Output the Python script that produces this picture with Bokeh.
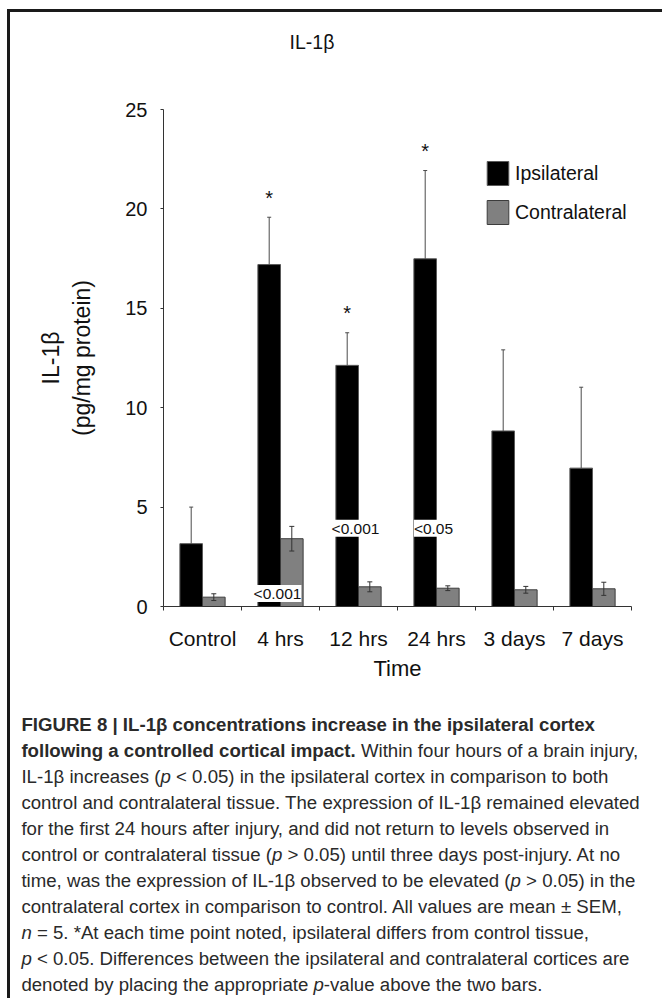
import numpy as np
from bokeh.plotting import figure
from bokeh.models import (Range1d, FixedTicker, ColumnDataSource, Whisker, TeeHead,
                          Legend, LegendItem, LabelSet, Div, LinearAxis)
from bokeh.layouts import column
from bokeh.core.properties import value
from bokeh.embed import file_html
from bokeh.resources import INLINE

# ---------------- data ----------------
categories = ["Control", "4 hrs", "12 hrs", "24 hrs", "3 days", "7 days"]
ipsilateral = [3.16, 17.2, 12.13, 17.49, 8.83, 6.96]
ipsilateral_sem = [1.84, 2.38, 1.64, 4.44, 4.08, 4.07]
contralateral = [0.47, 3.41, 0.99, 0.92, 0.84, 0.89]
contralateral_sem = [0.17, 0.62, 0.25, 0.12, 0.17, 0.33]
stars = ["", "*", "*", "*", "", ""]
p_values = ["", "<0.001", "<0.001", "<0.05", "", ""]
y_ticks = [0, 5, 10, 15, 20, 25]

# ---------------- layout constants ----------------
FONT = "Liberation Sans"
BAR_W = 0.29
P_LABEL_Y = {"4 hrs": 0.65, "12 hrs": 3.93, "24 hrs": 3.93}

n = len(categories)
centers = np.arange(n) + 0.5
ipsi = np.array(ipsilateral)
ipsi_e = np.array(ipsilateral_sem)
con = np.array(contralateral)
con_e = np.array(contralateral_sem)

src = ColumnDataSource(dict(
    x_ipsi=centers - BAR_W / 2,
    x_con=centers + BAR_W / 2,
    ipsi=ipsi, ipsi_top=ipsi + ipsi_e,
    con=con, con_lo=con - con_e, con_hi=con + con_e,
))

p = figure(width=652, height=644, x_range=Range1d(0, n), y_range=Range1d(0, 25),
           output_backend="svg", toolbar_location=None, margin=0,
           min_border_left=153, min_border_right=31, min_border_top=51, min_border_bottom=96)
p.grid.visible = False
p.outline_line_color = None
p.background_fill_color = "white"
p.border_fill_color = "white"

r_ipsi = p.vbar(x="x_ipsi", top="ipsi", bottom=0, width=BAR_W, source=src,
                fill_color="black", line_color="#5a5a5a", line_width=1)
r_con = p.vbar(x="x_con", top="con", bottom=0, width=BAR_W, source=src,
               fill_color="#808080", line_color="#3c3c3c", line_width=1)

p.add_layout(Whisker(source=src, base="x_ipsi", lower="ipsi", upper="ipsi_top",
                     lower_head=None,
                     upper_head=TeeHead(size=4, line_color="#4a4a4a", line_width=1),
                     line_color="#4a4a4a", line_width=1, level="overlay"))
p.add_layout(Whisker(source=src, base="x_con", lower="con_lo", upper="con_hi",
                     lower_head=TeeHead(size=5, line_color="#333333", line_width=1),
                     upper_head=TeeHead(size=5, line_color="#333333", line_width=1),
                     line_color="#333333", line_width=1, level="overlay"))

# significance stars
star_idx = [i for i, s in enumerate(stars) if s]
star_src = ColumnDataSource(dict(
    x=[centers[i] - BAR_W / 2 for i in star_idx],
    y=[ipsi[i] + ipsi_e[i] for i in star_idx],
    t=[stars[i] for i in star_idx]))
p.add_layout(LabelSet(source=star_src, x="x", y="y", text="t", y_offset=12.5,
                      text_align="center", text_baseline="alphabetic",
                      text_font=value(FONT), text_font_size=value("20px"),
                      text_color="#111111"))

# p-value labels
p_idx = [i for i, s in enumerate(p_values) if s]
p_src = ColumnDataSource(dict(
    x=[centers[i] for i in p_idx],
    y=[P_LABEL_Y[categories[i]] for i in p_idx],
    t=[p_values[i] for i in p_idx]))
p.add_layout(LabelSet(source=p_src, x="x", y="y", text="t", x_offset=-3,
                      text_align="center", text_baseline="middle",
                      text_font=value(FONT), text_font_size=value("15.5px"),
                      text_color="#111111",
                      background_fill_color="white", level="overlay"))

# axes
xa = p.xaxis[0]
xa.ticker = FixedTicker(ticks=list(centers), minor_ticks=list(range(n + 1)))
xa.major_label_overrides = {float(c): cat for c, cat in zip(centers, categories)}
xa.major_tick_out = 0
xa.major_tick_in = 0
xa.minor_tick_out = 4
xa.minor_tick_in = 0
xa.major_label_standoff = 16
xa.major_label_text_font = FONT
xa.major_label_text_font_size = "21px"
xa.major_label_text_color = "#111111"
xa.axis_label = "Time"
xa.axis_label_text_font = FONT
xa.axis_label_text_font_size = "22px"
xa.axis_label_text_font_style = "normal"
xa.axis_label_text_color = "#111111"
xa.axis_label_standoff = 3
xa.axis_line_color = "#333333"
xa.minor_tick_line_color = "#333333"

ya = p.yaxis[0]
ya.ticker = FixedTicker(ticks=y_ticks, minor_ticks=[])
ya.major_tick_out = 3
ya.major_tick_in = 0
ya.minor_tick_out = 0
ya.minor_tick_in = 0
ya.major_label_standoff = 13
ya.major_label_text_font = FONT
ya.major_label_text_font_size = "20px"
ya.major_label_text_color = "#111111"
ya.axis_line_color = "#333333"
ya.major_tick_line_color = "#333333"
ya.axis_label = "(pg/mg protein)"
ya.axis_label_text_font = FONT
ya.axis_label_text_font_size = "23px"
ya.axis_label_text_font_style = "normal"
ya.axis_label_text_color = "#111111"
ya.axis_label_standoff = 27

ya2 = LinearAxis(ticker=FixedTicker(ticks=[], minor_ticks=[]), axis_label="IL-1β",
                 axis_line_color=None, major_tick_out=0, major_tick_in=0,
                 minor_tick_out=0, minor_tick_in=0, major_label_standoff=0,
                 axis_label_standoff=3, axis_label_text_font=FONT,
                 axis_label_text_font_size="23px", axis_label_text_font_style="normal",
                 axis_label_text_color="#111111")
p.add_layout(ya2, "left")

legend = Legend(items=[LegendItem(label="Ipsilateral", renderers=[r_ipsi]),
                       LegendItem(label="Contralateral", renderers=[r_con])],
                location=(321, 379), glyph_width=27, glyph_height=30, spacing=9,
                padding=0, margin=0, label_standoff=4, border_line_color=None,
                background_fill_alpha=0, label_text_font=FONT,
                label_text_font_size="19.5px", label_text_color="#111111")
p.add_layout(legend)

title_div = Div(
    text=("<div style=\"font-family:'Liberation Sans',Arial,sans-serif;font-size:19.5px;"
          "line-height:22px;color:#111111;width:604px;text-align:center;"
          "padding-top:19px;\">IL-1β</div>"),
    width=652, height=46, margin=0)

caption_lines = [
    "<b>FIGURE 8 | IL-1β concentrations increase in the ipsilateral cortex</b>",
    "<b>following a controlled cortical impact.</b> Within four hours of a brain injury,",
    "IL-1β increases (<i>p</i> &lt; 0.05) in the ipsilateral cortex in comparison to both",
    "control and contralateral tissue. The expression of IL-1β remained elevated",
    "for the first 24 hours after injury, and did not return to levels observed in",
    "control or contralateral tissue (<i>p</i> &gt; 0.05) until three days post-injury. At no",
    "time, was the expression of IL-1β observed to be elevated (<i>p</i> &gt; 0.05) in the",
    "contralateral cortex in comparison to control. All values are mean ± SEM,",
    "<i>n</i> = 5. *At each time point noted, ipsilateral differs from control tissue,",
    "<i>p</i> &lt; 0.05. Differences between the ipsilateral and contralateral cortices are",
    "denoted by placing the appropriate <i>p</i>-value above the two bars.",
]
html = ("<div style=\"font-family:'Liberation Sans',Arial,sans-serif;font-size:18px;"
        "line-height:26px;color:#2a2a2a;padding:10px 0 0 11px;"
        "transform:scaleX(1.035);transform-origin:left top;\">"
        + "".join(f"<div style='white-space:nowrap'>{ln}</div>" for ln in caption_lines)
        + "</div>")
div = Div(text=html, width=652, height=296, margin=0)

layout = column(title_div, p, div, margin=(9, 0, 0, 7),
                styles={"border-top": "3px solid #1a1a1a", "border-left": "3px solid #1a1a1a"})

open("out.html", "w").write(file_html(layout, INLINE))
